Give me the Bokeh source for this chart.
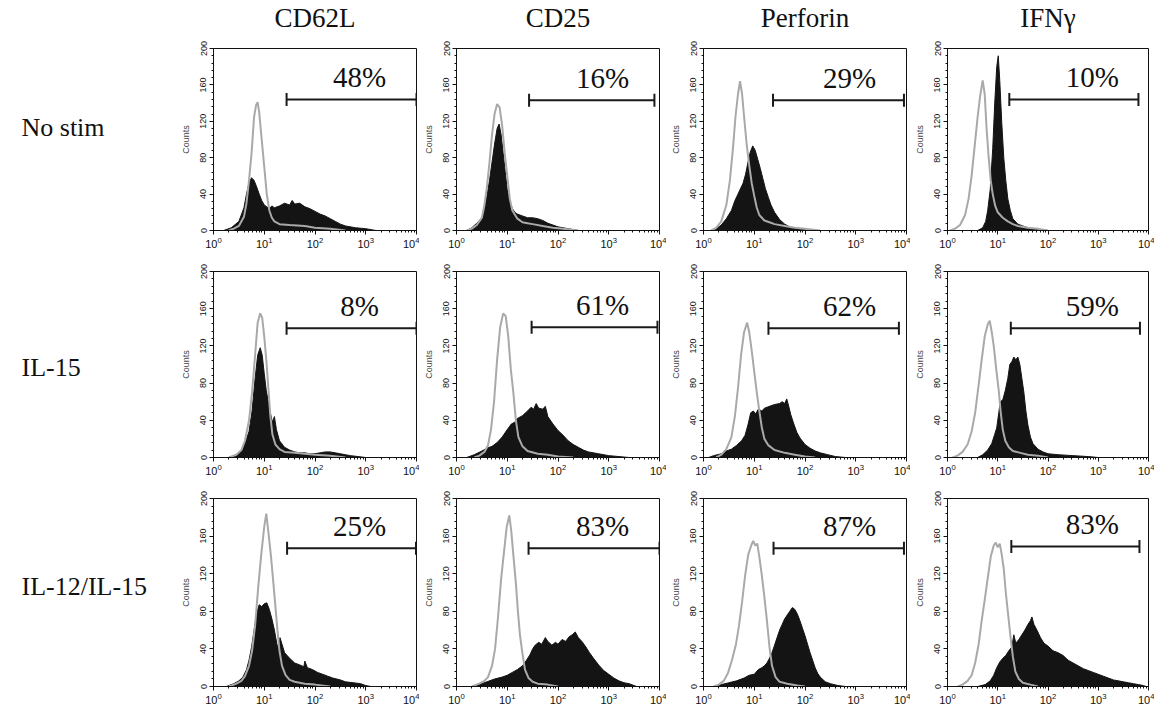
import math
from bokeh.plotting import figure
from bokeh.layouts import column, row
from bokeh.models import Range1d, FixedTicker, Label
from bokeh.embed import file_html
from bokeh.resources import INLINE

# ---------------- data (x in log10 decades of fluorescence, y in counts) ----------------
ROW_LABELS = ["No stim", "IL-15", "IL-12/IL-15"]
MARKERS = ["CD62L", "CD25", "Perforin", "IFNγ"]
PERCENTS = [["48%", "16%", "29%", "10%"],
            ["8%", "61%", "62%", "59%"],
            ["25%", "83%", "87%", "83%"]]
GATE_LO = [[1.44, 1.43, 1.37, 1.23],
           [1.44, 1.48, 1.28, 1.26],
           [1.45, 1.42, 1.38, 1.27]]
GATE_HI = [[4.0, 3.9, 3.95, 3.8],
           [4.0, 3.96, 3.85, 3.83],
           [3.99, 4.0, 3.95, 3.82]]
Y_TICKS = [0, 40, 80, 120, 160, 200]

# No stim
NOSTIM_CD62L_CTRL_LOG = [0.30, 0.40, 0.50, 0.60, 0.65, 0.70, 0.75, 0.80, 0.84, 0.87, 0.90, 0.95, 1.00, 1.05, 1.10, 1.15, 1.20, 1.30, 1.50, 1.80, 2.00, 2.30, 2.60]
NOSTIM_CD62L_CTRL_CNT = [0, 2, 5, 15, 30, 55, 85, 125, 138, 141, 130, 100, 70, 40, 22, 14, 10, 7, 6, 5, 3, 2, 0]
NOSTIM_CD62L_STIM_LOG = [0.2, 0.35, 0.5, 0.6, 0.65, 0.7, 0.75, 0.8, 0.85, 0.9, 0.95, 1.0, 1.05, 1.1, 1.15, 1.2, 1.3, 1.4, 1.5, 1.55, 1.6, 1.7, 1.8, 1.9, 2.0, 2.1, 2.2, 2.3, 2.4, 2.5, 2.6, 2.8, 3.0, 3.2]
NOSTIM_CD62L_STIM_CNT = [0, 3, 10, 25, 40, 52, 58, 55, 48, 40, 33, 28, 26, 24, 27, 25, 27, 30, 28, 33, 29, 30, 26, 24, 21, 18, 16, 13, 10, 7, 5, 3, 2, 0]

NOSTIM_CD25_CTRL_LOG = [0.2, 0.3, 0.4, 0.5, 0.55, 0.6, 0.65, 0.7, 0.75, 0.8, 0.85, 0.9, 0.95, 1.0, 1.05, 1.1, 1.2, 1.3, 1.4, 1.5, 1.7, 1.9, 2.1, 2.4]
NOSTIM_CD25_CTRL_CNT = [0, 2, 6, 14, 28, 48, 75, 105, 128, 139, 135, 115, 85, 60, 35, 22, 13, 9, 8, 7, 5, 3, 2, 0]
NOSTIM_CD25_STIM_LOG = [0.2, 0.3, 0.4, 0.5, 0.55, 0.6, 0.65, 0.7, 0.75, 0.8, 0.84, 0.88, 0.92, 0.96, 1.0, 1.05, 1.1, 1.15, 1.2, 1.3, 1.4, 1.5, 1.6, 1.7, 1.8, 1.9, 2.0, 2.2, 2.4]
NOSTIM_CD25_STIM_CNT = [0, 3, 8, 14, 22, 38, 55, 75, 95, 112, 117, 105, 85, 65, 45, 32, 24, 20, 18, 16, 14, 14, 13, 11, 8, 6, 4, 2, 0]

NOSTIM_PERF_CTRL_LOG = [0.15, 0.25, 0.35, 0.45, 0.52, 0.58, 0.63, 0.68, 0.72, 0.76, 0.8, 0.85, 0.9, 0.95, 1.0, 1.05, 1.1, 1.2, 1.3, 1.4, 1.6, 1.8, 2.0, 2.3]
NOSTIM_PERF_CTRL_CNT = [0, 3, 10, 28, 55, 90, 125, 150, 164, 150, 125, 95, 72, 52, 38, 25, 17, 11, 9, 7, 5, 3, 2, 0]
NOSTIM_PERF_STIM_LOG = [0.15, 0.25, 0.35, 0.45, 0.55, 0.62, 0.68, 0.72, 0.78, 0.83, 0.88, 0.92, 0.97, 1.02, 1.07, 1.12, 1.17, 1.22, 1.28, 1.33, 1.4, 1.5, 1.6, 1.7, 1.85, 2.1]
NOSTIM_PERF_STIM_CNT = [0, 2, 6, 13, 22, 33, 40, 45, 52, 62, 76, 86, 93, 88, 78, 68, 57, 46, 36, 28, 20, 12, 7, 4, 2, 0]

NOSTIM_IFNG_CTRL_LOG = [0.05, 0.15, 0.25, 0.35, 0.42, 0.48, 0.55, 0.6, 0.65, 0.7, 0.74, 0.78, 0.82, 0.86, 0.9, 0.95, 1.0, 1.1, 1.2, 1.3, 1.4, 1.6, 1.8, 2.0]
NOSTIM_IFNG_CTRL_CNT = [0, 2, 6, 17, 35, 60, 98, 125, 148, 165, 150, 110, 80, 55, 40, 27, 20, 14, 10, 7, 5, 3, 2, 0]
NOSTIM_IFNG_STIM_LOG = [0.6, 0.7, 0.76, 0.8, 0.85, 0.9, 0.94, 0.98, 1.01, 1.04, 1.08, 1.12, 1.16, 1.2, 1.25, 1.3, 1.4, 1.5, 1.6, 1.8, 2.0]
NOSTIM_IFNG_STIM_CNT = [0, 3, 10, 22, 45, 90, 140, 180, 192, 165, 118, 80, 55, 35, 22, 13, 7, 5, 3, 1, 0]

# IL-15
IL15_CD62L_CTRL_LOG = [0.3, 0.45, 0.55, 0.62, 0.7, 0.76, 0.82, 0.87, 0.92, 0.96, 1.0, 1.04, 1.08, 1.12, 1.16, 1.22, 1.3, 1.4, 1.6, 1.8, 2.0, 2.3, 2.6]
IL15_CD62L_CTRL_CNT = [0, 3, 8, 18, 40, 70, 110, 145, 155, 150, 130, 105, 75, 45, 25, 14, 9, 6, 5, 4, 3, 2, 0]
IL15_CD62L_STIM_LOG = [0.3, 0.45, 0.55, 0.62, 0.7, 0.76, 0.82, 0.87, 0.92, 0.96, 1.0, 1.04, 1.08, 1.12, 1.16, 1.2, 1.24, 1.3, 1.4, 1.5, 1.6, 1.7, 1.8, 1.9, 2.0, 2.1, 2.2, 2.3, 2.4, 2.5, 2.6, 2.7, 2.85, 3.0]
IL15_CD62L_STIM_CNT = [0, 3, 8, 15, 28, 50, 85, 110, 118, 110, 90, 72, 60, 48, 38, 44, 30, 18, 11, 8, 6, 5, 5, 4, 4, 5, 6, 6, 5, 4, 3, 2, 1, 0]

IL15_CD25_CTRL_LOG = [0.35, 0.45, 0.55, 0.62, 0.68, 0.74, 0.8, 0.86, 0.92, 0.97, 1.02, 1.07, 1.12, 1.17, 1.22, 1.3, 1.4, 1.6, 1.8, 2.0, 2.3]
IL15_CD25_CTRL_CNT = [0, 2, 6, 13, 30, 60, 105, 140, 155, 152, 130, 95, 70, 40, 22, 12, 7, 4, 3, 1, 0]
IL15_CD25_STIM_LOG = [0.2, 0.35, 0.5, 0.6, 0.7, 0.8, 0.9, 1.0, 1.08, 1.15, 1.2, 1.3, 1.4, 1.47, 1.52, 1.57, 1.62, 1.7, 1.75, 1.8, 1.9, 2.0, 2.1, 2.2, 2.3, 2.4, 2.5, 2.6, 2.8, 3.0, 3.2, 3.4]
IL15_CD25_STIM_CNT = [0, 3, 7, 10, 12, 16, 22, 30, 36, 38, 42, 45, 50, 54, 52, 58, 53, 52, 55, 44, 36, 29, 24, 18, 14, 11, 8, 6, 4, 2, 1, 0]

IL15_PERF_CTRL_LOG = [0.25, 0.35, 0.45, 0.55, 0.62, 0.68, 0.74, 0.8, 0.86, 0.9, 0.95, 1.0, 1.05, 1.1, 1.15, 1.2, 1.28, 1.4, 1.6, 1.8, 2.0, 2.2]
IL15_PERF_CTRL_CNT = [0, 3, 9, 22, 45, 75, 110, 135, 145, 135, 115, 92, 70, 50, 32, 20, 13, 8, 5, 3, 1, 0]
IL15_PERF_STIM_LOG = [0.1, 0.2, 0.35, 0.45, 0.55, 0.65, 0.75, 0.82, 0.88, 0.93, 0.98, 1.03, 1.08, 1.15, 1.2, 1.3, 1.4, 1.5, 1.55, 1.6, 1.64, 1.68, 1.72, 1.78, 1.84, 1.9, 2.0, 2.1, 2.2, 2.3, 2.45, 2.6, 2.8]
IL15_PERF_STIM_CNT = [0, 2, 4, 7, 9, 13, 18, 24, 36, 48, 50, 47, 52, 50, 53, 55, 57, 58, 60, 58, 63, 55, 46, 36, 27, 21, 14, 10, 7, 5, 3, 1, 0]

IL15_IFNG_CTRL_LOG = [0.1, 0.2, 0.3, 0.4, 0.48, 0.55, 0.62, 0.68, 0.74, 0.8, 0.84, 0.88, 0.92, 0.97, 1.02, 1.06, 1.1, 1.15, 1.22, 1.3, 1.45, 1.6, 1.8, 2.0]
IL15_IFNG_CTRL_CNT = [0, 2, 6, 14, 28, 48, 78, 105, 130, 143, 147, 135, 120, 95, 72, 48, 30, 18, 11, 7, 5, 3, 2, 0]
IL15_IFNG_STIM_LOG = [0.6, 0.7, 0.8, 0.88, 0.94, 0.98, 1.02, 1.05, 1.1, 1.15, 1.2, 1.24, 1.28, 1.32, 1.36, 1.4, 1.44, 1.48, 1.52, 1.56, 1.6, 1.65, 1.7, 1.8, 1.9, 2.0, 2.2, 2.5, 2.8, 3.0]
IL15_IFNG_STIM_CNT = [0, 3, 8, 15, 25, 32, 48, 60, 62, 72, 85, 100, 103, 108, 105, 108, 100, 85, 70, 50, 35, 22, 15, 9, 6, 4, 3, 2, 1, 0]

# IL-12/IL-15
IL1215_CD62L_CTRL_LOG = [0.3, 0.45, 0.55, 0.62, 0.7, 0.76, 0.82, 0.88, 0.94, 1.0, 1.04, 1.08, 1.13, 1.18, 1.22, 1.26, 1.3, 1.35, 1.42, 1.5, 1.6, 1.8, 2.0, 2.3]
IL1215_CD62L_CTRL_CNT = [0, 3, 6, 11, 22, 38, 65, 105, 140, 170, 184, 165, 140, 110, 85, 60, 38, 22, 12, 7, 5, 3, 2, 0]
IL1215_CD62L_STIM_LOG = [0.25, 0.4, 0.5, 0.58, 0.65, 0.7, 0.75, 0.8, 0.85, 0.9, 0.95, 1.0, 1.05, 1.1, 1.15, 1.2, 1.25, 1.28, 1.31, 1.35, 1.4, 1.5, 1.6, 1.7, 1.78, 1.8, 1.85, 1.95, 2.05, 2.15, 2.25, 2.35, 2.5, 2.6, 2.75, 2.9, 3.0, 3.1]
IL1215_CD62L_STIM_CNT = [0, 3, 6, 10, 18, 28, 42, 60, 78, 87, 85, 88, 89, 82, 72, 60, 45, 40, 52, 45, 36, 30, 25, 23, 21, 27, 20, 18, 15, 13, 11, 9, 7, 5, 4, 3, 1, 0]

IL1215_CD25_CTRL_LOG = [0.3, 0.45, 0.55, 0.62, 0.7, 0.76, 0.82, 0.88, 0.94, 0.99, 1.04, 1.08, 1.12, 1.17, 1.21, 1.25, 1.3, 1.35, 1.42, 1.5, 1.6, 1.8, 2.0]
IL1215_CD25_CTRL_CNT = [0, 3, 6, 10, 22, 40, 75, 115, 145, 170, 182, 165, 140, 110, 80, 55, 35, 18, 9, 5, 3, 2, 0]
IL1215_CD25_STIM_LOG = [0.3, 0.45, 0.6, 0.75, 0.9, 1.0, 1.1, 1.2, 1.3, 1.38, 1.45, 1.5, 1.55, 1.62, 1.68, 1.75, 1.8, 1.88, 1.95, 2.0, 2.08, 2.15, 2.22, 2.28, 2.34, 2.4, 2.47, 2.55, 2.62, 2.7, 2.8, 2.9, 3.0, 3.1, 3.2, 3.3, 3.4, 3.55]
IL1215_CD25_STIM_CNT = [0, 2, 5, 8, 10, 12, 15, 18, 22, 28, 34, 40, 44, 47, 45, 52, 48, 44, 47, 45, 50, 48, 53, 55, 58, 52, 48, 42, 36, 30, 23, 17, 13, 9, 6, 4, 3, 0]

IL1215_PERF_CTRL_LOG = [0.2, 0.3, 0.4, 0.48, 0.56, 0.64, 0.7, 0.76, 0.82, 0.88, 0.94, 0.98, 1.02, 1.06, 1.1, 1.15, 1.2, 1.25, 1.3, 1.35, 1.42, 1.5, 1.65, 1.85, 2.0]
IL1215_PERF_CTRL_CNT = [0, 2, 6, 14, 28, 45, 65, 90, 118, 140, 150, 155, 150, 152, 138, 118, 95, 70, 42, 22, 10, 5, 3, 1, 0]
IL1215_PERF_STIM_LOG = [0.2, 0.35, 0.5, 0.65, 0.8, 0.9, 1.0, 1.08, 1.15, 1.2, 1.25, 1.3, 1.35, 1.4, 1.45, 1.5, 1.55, 1.6, 1.65, 1.7, 1.75, 1.8, 1.85, 1.9, 1.95, 2.0, 2.05, 2.1, 2.15, 2.2, 2.25, 2.3, 2.4, 2.5, 2.65, 2.8]
IL1215_PERF_STIM_CNT = [0, 2, 4, 6, 9, 12, 13, 18, 20, 22, 25, 30, 36, 44, 52, 60, 66, 72, 76, 80, 84, 82, 77, 70, 62, 54, 45, 36, 28, 20, 14, 10, 5, 3, 1, 0]

IL1215_IFNG_CTRL_LOG = [0.2, 0.3, 0.4, 0.48, 0.55, 0.62, 0.68, 0.74, 0.8, 0.86, 0.92, 0.96, 1.0, 1.04, 1.08, 1.12, 1.16, 1.2, 1.25, 1.3, 1.35, 1.42, 1.5, 1.65, 1.8]
IL1215_IFNG_CTRL_CNT = [0, 2, 6, 12, 25, 45, 70, 92, 115, 138, 150, 153, 148, 152, 140, 125, 100, 80, 55, 32, 16, 8, 4, 2, 0]
IL1215_IFNG_STIM_LOG = [0.6, 0.75, 0.85, 0.92, 0.98, 1.04, 1.1, 1.16, 1.22, 1.28, 1.32, 1.36, 1.42, 1.48, 1.54, 1.6, 1.65, 1.68, 1.72, 1.78, 1.85, 1.92, 2.0, 2.1, 2.2, 2.3, 2.4, 2.5, 2.6, 2.7, 2.8, 2.9, 3.0, 3.1, 3.2, 3.3, 3.4, 3.5, 3.6, 3.7, 3.8, 3.9, 3.95]
IL1215_IFNG_STIM_CNT = [0, 2, 6, 12, 20, 26, 30, 33, 38, 42, 55, 46, 50, 55, 60, 66, 70, 74, 66, 60, 52, 46, 43, 38, 36, 33, 28, 25, 22, 19, 17, 15, 13, 11, 9, 7, 6, 5, 4, 3, 2, 1, 0]

CURVES = [
    [(NOSTIM_CD62L_CTRL_LOG, NOSTIM_CD62L_CTRL_CNT, NOSTIM_CD62L_STIM_LOG, NOSTIM_CD62L_STIM_CNT),
     (NOSTIM_CD25_CTRL_LOG, NOSTIM_CD25_CTRL_CNT, NOSTIM_CD25_STIM_LOG, NOSTIM_CD25_STIM_CNT),
     (NOSTIM_PERF_CTRL_LOG, NOSTIM_PERF_CTRL_CNT, NOSTIM_PERF_STIM_LOG, NOSTIM_PERF_STIM_CNT),
     (NOSTIM_IFNG_CTRL_LOG, NOSTIM_IFNG_CTRL_CNT, NOSTIM_IFNG_STIM_LOG, NOSTIM_IFNG_STIM_CNT)],
    [(IL15_CD62L_CTRL_LOG, IL15_CD62L_CTRL_CNT, IL15_CD62L_STIM_LOG, IL15_CD62L_STIM_CNT),
     (IL15_CD25_CTRL_LOG, IL15_CD25_CTRL_CNT, IL15_CD25_STIM_LOG, IL15_CD25_STIM_CNT),
     (IL15_PERF_CTRL_LOG, IL15_PERF_CTRL_CNT, IL15_PERF_STIM_LOG, IL15_PERF_STIM_CNT),
     (IL15_IFNG_CTRL_LOG, IL15_IFNG_CTRL_CNT, IL15_IFNG_STIM_LOG, IL15_IFNG_STIM_CNT)],
    [(IL1215_CD62L_CTRL_LOG, IL1215_CD62L_CTRL_CNT, IL1215_CD62L_STIM_LOG, IL1215_CD62L_STIM_CNT),
     (IL1215_CD25_CTRL_LOG, IL1215_CD25_CTRL_CNT, IL1215_CD25_STIM_LOG, IL1215_CD25_STIM_CNT),
     (IL1215_PERF_CTRL_LOG, IL1215_PERF_CTRL_CNT, IL1215_PERF_STIM_LOG, IL1215_PERF_STIM_CNT),
     (IL1215_IFNG_CTRL_LOG, IL1215_IFNG_CTRL_CNT, IL1215_IFNG_STIM_LOG, IL1215_IFNG_STIM_CNT)],
]

# ---------------- layout / style ----------------
FRAME_W = [203, 203, 203, 201]
BORDER_L = 37
BORDER_R = [3, 7, 4, 6]
FRAME_H = [182, 186, 188]
HEADER_H = 40
BORDER_T = [8, 19, 19]
BORDER_B = [22, 22, 20]
LABEL_W = 176
ROW_LABEL_Y = [103, 90, 100]
HEADER_Y = 8
GATE_Y = [[144, 143, 143, 144], [139, 140, 139, 139], [147, 147, 147, 149]]
SERIF = "Liberation Serif"
SANS = "Liberation Sans"
FILL = "#141414"
GRAY = "#a9a9a9"


def make_panel(ri, ci):
    ctrl_log, ctrl_cnt, stim_log, stim_cnt = CURVES[ri][ci]
    assert len(ctrl_log) == len(ctrl_cnt), (ri, ci, "ctrl")
    assert len(stim_log) == len(stim_cnt), (ri, ci, "stim")
    p = figure(x_axis_type="log", x_range=Range1d(1, 10000), y_range=Range1d(0, 200),
               frame_width=FRAME_W[ci], frame_height=FRAME_H[ri],
               min_border_left=BORDER_L, min_border_right=BORDER_R[ci],
               min_border_top=BORDER_T[ri], min_border_bottom=BORDER_B[ri],
               output_backend="svg", toolbar_location=None)
    p.xgrid.visible = False
    p.ygrid.visible = False
    p.outline_line_color = "#111111"
    p.outline_line_width = 1
    p.background_fill_color = "white"
    p.border_fill_color = "white"

    sx = [10 ** v for v in stim_log]
    cx = [10 ** v for v in ctrl_log]
    p.varea(x=sx, y1=[0] * len(sx), y2=stim_cnt, fill_color=FILL)
    p.line(x=sx, y=stim_cnt, line_color=FILL, line_width=1)
    p.line(x=cx, y=ctrl_cnt, line_color=GRAY, line_width=2)

    lo = 10 ** GATE_LO[ri][ci]
    hi = 10 ** GATE_HI[ri][ci]
    gy = GATE_Y[ri][ci]
    p.segment(x0=[lo], y0=[gy], x1=[hi], y1=[gy], line_color="#1a1a1a", line_width=2)
    p.scatter(x=[lo, hi], y=[gy, gy], marker="dash", angle=math.pi / 2, size=13,
              line_color="#1a1a1a", line_width=2)
    p.add_layout(Label(x=FRAME_W[ci] * 0.72, x_units="screen", y=gy, y_units="data",
                       y_offset=6, text=PERCENTS[ri][ci], text_align="center",
                       text_baseline="bottom", text_font=SERIF, text_font_size="29px",
                       text_color="#111111"))

    xa = p.xaxis[0]
    xa.axis_line_color = "#111111"
    xa.major_tick_line_color = "#111111"
    xa.minor_tick_line_color = "#111111"
    xa.major_tick_in = 0
    xa.major_tick_out = 4
    xa.minor_tick_in = 0
    xa.minor_tick_out = 2
    xa.major_label_standoff = 2
    xa.major_label_text_font = SANS
    xa.major_label_text_font_size = "11px"
    xa.major_label_text_color = "#111111"

    ya = p.yaxis[0]
    ya.ticker = FixedTicker(ticks=Y_TICKS, minor_ticks=list(range(0, 201, 8)))
    ya.axis_line_color = "#111111"
    ya.major_tick_line_color = "#111111"
    ya.minor_tick_line_color = "#111111"
    ya.major_tick_in = 0
    ya.major_tick_out = 4
    ya.minor_tick_in = 0
    ya.minor_tick_out = 2
    ya.major_label_orientation = "vertical"
    ya.major_label_standoff = 3
    ya.major_label_text_font = SANS
    ya.major_label_text_font_size = "9px"
    ya.major_label_text_color = "#111111"
    ya.axis_label = "Counts"
    ya.axis_label_text_font = SANS
    ya.axis_label_text_font_size = "9px"
    ya.axis_label_text_font_style = "normal"
    ya.axis_label_standoff = 7
    return p


def blank_figure(w, h):
    f = figure(width=w, height=h, x_range=Range1d(0, 1), y_range=Range1d(0, 1),
               min_border_left=0, min_border_right=0, min_border_top=0, min_border_bottom=0,
               x_axis_location=None, y_axis_location=None,
               output_backend="svg", toolbar_location=None)
    f.outline_line_color = None
    f.xgrid.visible = False
    f.ygrid.visible = False
    return f


def make_row_label(ri):
    h = BORDER_T[ri] + FRAME_H[ri] + BORDER_B[ri]
    lf = blank_figure(LABEL_W, h)
    lf.add_layout(Label(x=21, y=ROW_LABEL_Y[ri], x_units="screen", y_units="screen",
                        text=ROW_LABELS[ri], text_font=SERIF, text_font_size="26px",
                        text_baseline="middle", text_color="#111111"))
    return lf


def make_header():
    widths = [BORDER_L + FRAME_W[ci] + BORDER_R[ci] for ci in range(4)]
    total = LABEL_W + sum(widths)
    hf = blank_figure(total, HEADER_H)
    left = LABEL_W
    for ci in range(4):
        cx = left + BORDER_L + FRAME_W[ci] / 2
        hf.add_layout(Label(x=cx, y=HEADER_Y, x_units="screen", y_units="screen",
                            text=MARKERS[ci], text_align="center", text_baseline="bottom",
                            text_font=SERIF, text_font_size="27px", text_color="#111111"))
        left += widths[ci]
    return hf


rows = [make_header()]
for ri in range(3):
    rows.append(row([make_row_label(ri)] + [make_panel(ri, ci) for ci in range(4)]))
layout = column(rows)

open("out.html", "w").write(file_html(layout, INLINE))
